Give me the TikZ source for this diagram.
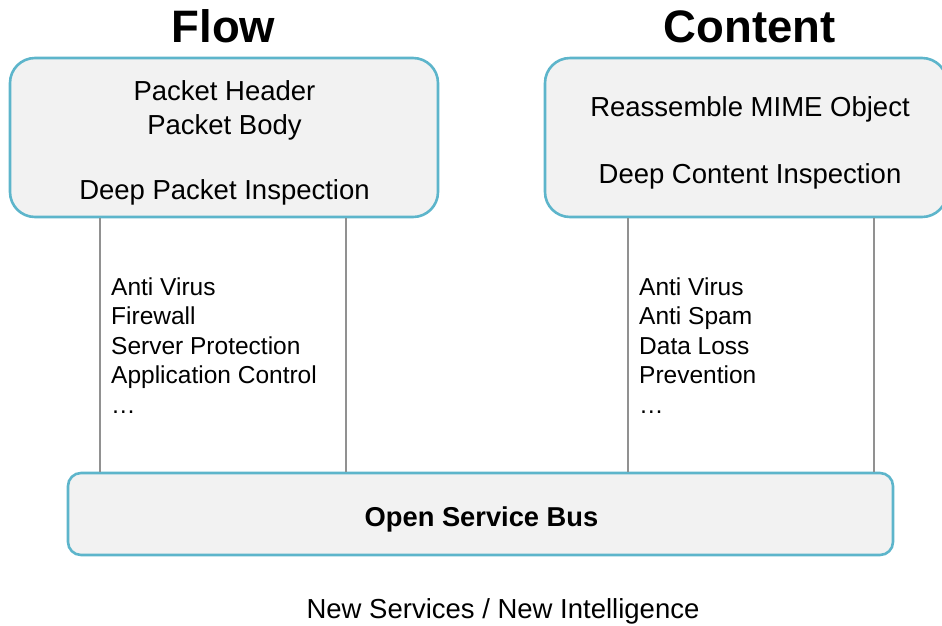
\documentclass[tikz,border=0pt]{standalone}
\usepackage{fontspec}
\setmainfont{Liberation Sans}
\definecolor{boxline}{HTML}{5DB5CB}
\definecolor{boxfill}{HTML}{F2F2F2}
\definecolor{conn}{HTML}{919191}
\tikzset{
  roundbox/.style={draw=boxline, fill=boxfill, line width=2.6pt, rounded corners=25pt, inner sep=0pt},
  busbox/.style={draw=boxline, fill=boxfill, line width=2.6pt, rounded corners=13pt, inner sep=0pt},
  title/.style={font=\fontsize{45.5}{50}\selectfont\bfseries, anchor=base, inner sep=0pt},
  boxtxt/.style={font=\fontsize{27.5}{31}\selectfont, anchor=base, inner sep=0pt},
  listtxt/.style={font=\fontsize{24.5}{28}\selectfont, anchor=base west, inner sep=0pt},
  connector/.style={draw=conn, line width=2.4pt},
}
\begin{document}
\begin{tikzpicture}[x=1pt,y=-1pt]
\useasboundingbox (0,0) rectangle (942,625);
\clip (0,0) rectangle (942,625);
% titles
\node[title] (tflow) at (223.5,42) {Flow};
\node[title] (tcont) at (749.5,42) {Content};
% connector end points
\coordinate (l1t) at (100,217); \coordinate (l1b) at (100,473);
\coordinate (l2t) at (346,217); \coordinate (l2b) at (346,473);
\coordinate (l3t) at (628,217); \coordinate (l3b) at (628,473);
\coordinate (l4t) at (874,217); \coordinate (l4b) at (874,473);
% boxes
\node[roundbox, minimum width=428pt, minimum height=159pt] (flow) at (224,137.5) {};
\node[roundbox, minimum width=402pt, minimum height=159pt] (cont) at (746,137.5) {};
\node[busbox, minimum width=825pt, minimum height=82pt] (bus) at (480.5,514) {};
\draw[connector] (l1t |- flow.south) -- (l1b |- bus.north);
\draw[connector] (l2t |- flow.south) -- (l2b |- bus.north);
\draw[connector] (l3t |- cont.south) -- (l3b |- bus.north);
\draw[connector] (l4t |- cont.south) -- (l4b |- bus.north);
% flow box text
\node[boxtxt] (fh) at (224.5,100) {Packet Header};
\node[boxtxt] (fb) at (224.5,134) {Packet Body};
\node[boxtxt] (fd) at (224.5,199) {Deep Packet Inspection};
% content box text
\node[boxtxt] (cr) at (750,116) {Reassemble MIME Object};
\node[boxtxt] (cd) at (750,183) {Deep Content Inspection};
% lists
\node[listtxt] (a1) at (111,295) {Anti Virus};
\node[listtxt] (a2) at (111,324.5) {Firewall};
\node[listtxt] (a3) at (111,354) {Server Protection};
\node[listtxt] (a4) at (111,383.5) {Application Control};
\node[listtxt] (a5) at (111,413) {…};
\node[listtxt] (b1) at (639,295) {Anti Virus};
\node[listtxt] (b2) at (639,324.5) {Anti Spam};
\node[listtxt] (b3) at (639,354) {Data Loss};
\node[listtxt] (b4) at (639,383.5) {Prevention};
\node[listtxt] (b5) at (639,413) {…};
% bus text
\node[font=\fontsize{27.3}{31}\selectfont\bfseries, anchor=base, inner sep=0pt] (bt) at (481.5,526) {Open Service Bus};
% bottom text
\node[boxtxt] (nt) at (503,618) {New Services / New Intelligence};
\end{tikzpicture}
\end{document}
